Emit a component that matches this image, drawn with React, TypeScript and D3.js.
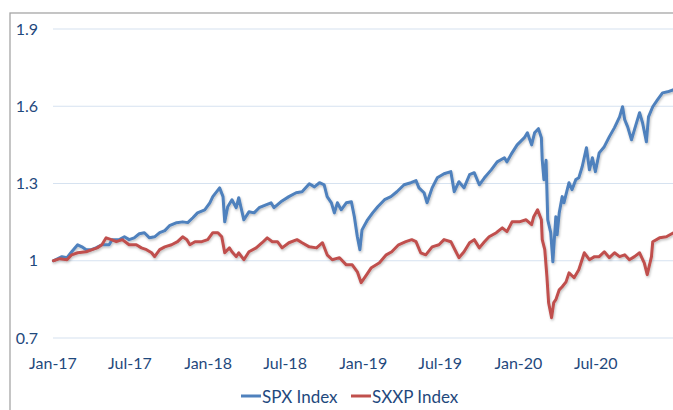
import React from "react";
import * as d3 from "d3";

const seriesNames = ["SPX Index", "SXXP Index"];
const seriesColors = ["#4F81BD", "#C0504D"];
const yTicks = [0.7, 1, 1.3, 1.6, 1.9];
const xTickDates = ["2017-01-01", "2017-07-01", "2018-01-01", "2018-07-01", "2019-01-01", "2019-07-01", "2020-01-01", "2020-07-01"];

const spxData: [string, number][] = [
  ["2017-01-02", 1.0], ["2017-01-22", 1.016], ["2017-02-03", 1.012], ["2017-02-14", 1.035],
  ["2017-02-28", 1.062], ["2017-03-10", 1.054], ["2017-03-20", 1.043], ["2017-04-01", 1.043],
  ["2017-04-12", 1.05], ["2017-04-26", 1.062], ["2017-05-13", 1.062], ["2017-05-20", 1.082],
  ["2017-06-06", 1.082], ["2017-06-18", 1.093], ["2017-06-29", 1.082], ["2017-07-11", 1.089],
  ["2017-07-23", 1.105], ["2017-08-04", 1.109], ["2017-08-16", 1.089], ["2017-08-28", 1.093],
  ["2017-09-09", 1.109], ["2017-09-21", 1.117], ["2017-10-02", 1.136], ["2017-10-19", 1.148],
  ["2017-11-02", 1.151], ["2017-11-14", 1.148], ["2017-11-26", 1.167], ["2017-12-07", 1.186],
  ["2017-12-24", 1.198], ["2018-01-05", 1.225], ["2018-01-12", 1.249], ["2018-01-28", 1.283],
  ["2018-02-05", 1.249], ["2018-02-09", 1.151], ["2018-02-16", 1.21], ["2018-02-26", 1.237],
  ["2018-03-08", 1.206], ["2018-03-14", 1.245], ["2018-03-26", 1.159], ["2018-04-07", 1.19],
  ["2018-04-19", 1.186], ["2018-05-01", 1.206], ["2018-05-17", 1.217], ["2018-05-29", 1.225],
  ["2018-06-05", 1.206], ["2018-06-21", 1.229], ["2018-07-10", 1.249], ["2018-07-27", 1.264],
  ["2018-08-10", 1.268], ["2018-08-27", 1.299], ["2018-09-08", 1.287], ["2018-09-20", 1.303],
  ["2018-10-01", 1.295], ["2018-10-08", 1.249], ["2018-10-18", 1.225], ["2018-10-25", 1.186],
  ["2018-11-01", 1.225], ["2018-11-10", 1.198], ["2018-11-22", 1.225], ["2018-12-04", 1.229],
  ["2018-12-11", 1.171], ["2018-12-18", 1.093], ["2018-12-24", 1.043], ["2018-12-29", 1.12],
  ["2019-01-11", 1.159], ["2019-01-23", 1.186], ["2019-02-04", 1.21], ["2019-02-20", 1.237],
  ["2019-03-07", 1.249], ["2019-03-21", 1.268], ["2019-04-07", 1.295], ["2019-04-23", 1.303],
  ["2019-05-05", 1.311], ["2019-05-12", 1.283], ["2019-05-24", 1.264], ["2019-05-31", 1.225],
  ["2019-06-12", 1.283], ["2019-06-24", 1.322], ["2019-07-10", 1.338], ["2019-07-26", 1.346],
  ["2019-08-03", 1.268], ["2019-08-14", 1.307], ["2019-08-26", 1.283], ["2019-09-08", 1.334],
  ["2019-09-19", 1.342], ["2019-10-01", 1.295], ["2019-10-13", 1.322], ["2019-10-29", 1.353],
  ["2019-11-12", 1.384], ["2019-11-29", 1.4], ["2019-12-05", 1.384], ["2019-12-17", 1.419],
  ["2019-12-29", 1.45], ["2020-01-15", 1.478], ["2020-01-22", 1.497], ["2020-02-01", 1.45],
  ["2020-02-08", 1.497], ["2020-02-17", 1.513], ["2020-02-24", 1.478], ["2020-02-26", 1.392],
  ["2020-03-01", 1.315], ["2020-03-06", 1.39], ["2020-03-10", 1.159], ["2020-03-17", 1.109],
  ["2020-03-22", 0.996], ["2020-03-29", 1.171], ["2020-04-01", 1.101], ["2020-04-06", 1.186],
  ["2020-04-13", 1.249], ["2020-04-17", 1.225], ["2020-04-29", 1.303], ["2020-05-06", 1.276],
  ["2020-05-15", 1.315], ["2020-05-22", 1.322], ["2020-05-30", 1.365], ["2020-06-09", 1.439],
  ["2020-06-16", 1.353], ["2020-06-23", 1.4], ["2020-06-30", 1.346], ["2020-07-09", 1.419],
  ["2020-07-21", 1.443], ["2020-08-02", 1.482], ["2020-08-14", 1.517], ["2020-08-26", 1.559],
  ["2020-09-02", 1.598], ["2020-09-07", 1.548], ["2020-09-14", 1.52], ["2020-09-23", 1.47],
  ["2020-09-30", 1.509], ["2020-10-12", 1.575], ["2020-10-19", 1.536], ["2020-10-28", 1.462],
  ["2020-11-02", 1.559], ["2020-11-12", 1.598], ["2020-11-23", 1.625], ["2020-12-05", 1.652],
  ["2020-12-17", 1.656], ["2020-12-31", 1.664],
];

const sxxpData: [string, number][] = [
  ["2017-01-02", 1.0], ["2017-01-17", 1.008], ["2017-02-03", 1.004], ["2017-02-14", 1.023],
  ["2017-02-28", 1.031], ["2017-03-20", 1.035], ["2017-04-03", 1.043], ["2017-04-15", 1.05],
  ["2017-04-26", 1.062], ["2017-05-06", 1.089], ["2017-05-18", 1.082], ["2017-05-30", 1.074],
  ["2017-06-13", 1.082], ["2017-06-29", 1.062], ["2017-07-16", 1.062], ["2017-07-28", 1.05],
  ["2017-08-09", 1.043], ["2017-08-21", 1.031], ["2017-08-28", 1.016], ["2017-09-09", 1.043],
  ["2017-09-21", 1.054], ["2017-10-07", 1.062], ["2017-10-21", 1.074], ["2017-11-02", 1.093],
  ["2017-11-12", 1.082], ["2017-11-19", 1.062], ["2017-12-01", 1.074], ["2017-12-17", 1.074],
  ["2017-12-31", 1.082], ["2018-01-12", 1.109], ["2018-01-24", 1.109], ["2018-02-02", 1.093],
  ["2018-02-09", 1.031], ["2018-02-20", 1.05], ["2018-02-26", 1.035], ["2018-03-08", 1.016],
  ["2018-03-14", 1.031], ["2018-03-26", 1.004], ["2018-04-07", 1.035], ["2018-04-24", 1.05],
  ["2018-05-08", 1.07], ["2018-05-20", 1.089], ["2018-06-01", 1.074], ["2018-06-13", 1.074],
  ["2018-06-24", 1.05], ["2018-07-10", 1.07], ["2018-07-29", 1.082], ["2018-08-10", 1.07],
  ["2018-08-27", 1.054], ["2018-09-13", 1.05], ["2018-09-27", 1.07], ["2018-10-08", 1.023],
  ["2018-10-20", 1.004], ["2018-11-06", 1.012], ["2018-11-22", 0.984], ["2018-12-06", 0.984],
  ["2018-12-18", 0.957], ["2018-12-27", 0.915], ["2019-01-09", 0.946], ["2019-01-20", 0.973],
  ["2019-02-08", 0.992], ["2019-02-24", 1.023], ["2019-03-09", 1.035], ["2019-03-25", 1.062],
  ["2019-04-11", 1.074], ["2019-04-25", 1.082], ["2019-05-05", 1.074], ["2019-05-16", 1.031],
  ["2019-05-28", 1.023], ["2019-06-12", 1.054], ["2019-06-28", 1.062], ["2019-07-10", 1.082],
  ["2019-07-26", 1.074], ["2019-08-07", 1.035], ["2019-08-14", 1.012], ["2019-08-26", 1.035],
  ["2019-09-08", 1.07], ["2019-09-19", 1.082], ["2019-10-01", 1.05], ["2019-10-13", 1.074],
  ["2019-10-24", 1.093], ["2019-11-10", 1.109], ["2019-11-24", 1.128], ["2019-12-05", 1.113],
  ["2019-12-17", 1.151], ["2020-01-03", 1.151], ["2020-01-19", 1.159], ["2020-02-01", 1.14],
  ["2020-02-06", 1.171], ["2020-02-15", 1.198], ["2020-02-24", 1.159], ["2020-02-26", 1.082],
  ["2020-03-03", 1.043], ["2020-03-08", 0.938], ["2020-03-12", 0.837], ["2020-03-19", 0.779],
  ["2020-03-24", 0.837], ["2020-03-29", 0.849], ["2020-04-06", 0.887], ["2020-04-13", 0.899],
  ["2020-04-22", 0.918], ["2020-04-29", 0.953], ["2020-05-11", 0.934], ["2020-05-22", 0.965],
  ["2020-06-04", 1.031], ["2020-06-16", 1.004], ["2020-06-28", 1.016], ["2020-07-09", 1.016],
  ["2020-07-21", 1.035], ["2020-08-02", 1.012], ["2020-08-14", 1.031], ["2020-08-26", 1.016],
  ["2020-09-07", 1.023], ["2020-09-18", 1.004], ["2020-09-30", 1.016], ["2020-10-12", 1.031],
  ["2020-10-23", 0.992], ["2020-10-30", 0.946], ["2020-11-09", 1.016], ["2020-11-12", 1.074],
  ["2020-11-28", 1.089], ["2020-12-14", 1.093], ["2020-12-31", 1.109],
];

const parse = d3.utcParse("%Y-%m-%d");
const fmt = d3.utcFormat("%b-%y");

export default function App() {
  const W = 673;
  const H = 410;
  const x = d3
    .scaleUtc()
    .domain([parse("2017-01-01") as Date, parse("2021-01-01") as Date])
    .range([53, 674]);
  const y = d3.scaleLinear().domain([0.7, 1.9]).range([338, 29]);
  const line = d3
    .line<[string, number]>()
    .x((d) => x(parse(d[0]) as Date))
    .y((d) => y(d[1]));
  const series = [spxData, sxxpData];
  const textColor = "#1F497D";
  const font = "Lato, 'Noto Sans', sans-serif";

  return (
    <svg
      width={W}
      height={H}
      style={{ position: "absolute", left: 0, top: 0, background: "#fff" }}
      fontFamily={font}
    >
      <defs>
        <filter id="shadow" x="-5%" y="-5%" width="110%" height="120%">
          <feDropShadow dx="0.8" dy="1.5" stdDeviation="0.8" floodColor="#000" floodOpacity="0.25" />
        </filter>
      </defs>
      <rect x={10} y={13} width={700} height={450} fill="#fff" stroke="#a6a6a6" strokeWidth={1.3} />
      {yTicks.map((t) => (
        <g key={t}>
          <line x1={53} x2={W} y1={y(t)} y2={y(t)} stroke="#D6E2F0" strokeWidth={1.2} />
          <text x={38} y={y(t)} dy="0.35em" textAnchor="end" fontSize={16} fill={textColor}>
            {d3.format("")(t)}
          </text>
        </g>
      ))}
      {xTickDates.map((s) => (
        <text key={s} x={x(parse(s) as Date)} y={369} textAnchor="middle" fontSize={16} fill={textColor}>
          {fmt(parse(s) as Date)}
        </text>
      ))}
      <g filter="url(#shadow)">
        {series.map((d, i) => (
          <path
            key={i}
            d={line(d) || ""}
            fill="none"
            stroke={seriesColors[i]}
            strokeWidth={3}
            strokeLinejoin="round"
            strokeLinecap="round"
          />
        ))}
      </g>
      {seriesNames.map((n, i) => {
        const lx = i === 0 ? 241 : 351;
        return (
          <g key={n}>
            <line x1={lx} x2={lx + 20} y1={396} y2={396} stroke={seriesColors[i]} strokeWidth={3} />
            <text x={lx + 21} y={403} fontSize={17} fill={textColor}>
              {n}
            </text>
          </g>
        );
      })}
    </svg>
  );
}
